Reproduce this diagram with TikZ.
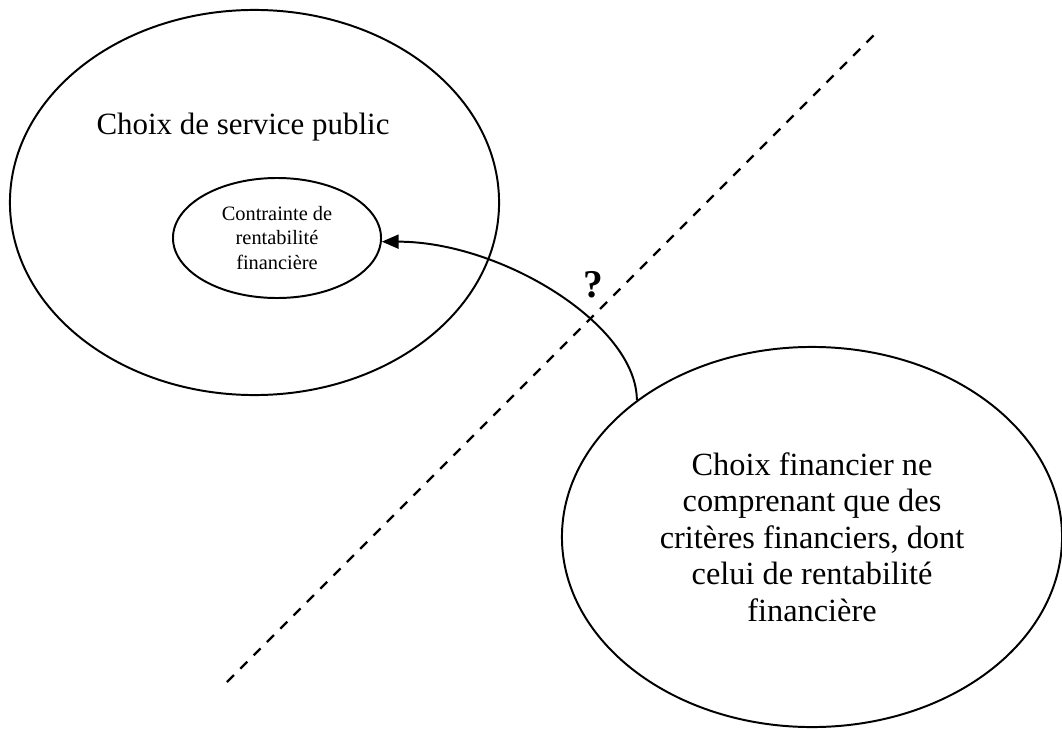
\documentclass[tikz,border=0pt]{standalone}
\usepackage{fontspec}
\setmainfont{Liberation Serif}
\usetikzlibrary{positioning, arrows.meta, shapes.geometric}

\begin{document}
\begin{tikzpicture}[
        x=0.025cm, y=-0.025cm,
        every node/.style={font=\fontsize{22}{26}\selectfont},
        bubble/.style={ellipse, draw, line width=1.4pt, inner sep=0pt},
        small/.style={font=\fontsize{14.5}{17.2}\selectfont, align=center},
        big/.style={font=\fontsize{23}{26}\selectfont, align=center},
        edge/.style={-{Triangle[length=12pt, width=10pt]}, line width=1.4pt},
        border/.style={line width=1.7pt, dash pattern=on 7pt off 6.4pt}
    ]
        \useasboundingbox (0,0) rectangle (1062,729);
        % Border between the two choices
        \coordinate (b1) at (227,682);
        \coordinate (b2) at (875,34);
        \draw[border] (b1) -- (b2);
        % Public service side
        \node[bubble, minimum width=12.225cm, minimum height=9.625cm] (pub) at (254.5,202.5) {};
        \node (pubtxt) at (243,127) {Choix de service public};
        \node[bubble, small, minimum width=5.2cm, minimum height=3cm] (cont) at (277,238)
            {Contrainte de\\rentabilité\\financière};
        % Financial side
        \node[bubble, big, minimum width=12.5cm, minimum height=9.5cm] (fin) at (812,537)
            {Choix financier ne\\comprenant que des\\critères financiers, dont\\celui de rentabilité\\financière};
        % Question
        \draw[edge] (fin.142.4) .. controls ++(0,-75) and ++(120,0) .. (cont.-2);
        \node[font=\fontsize{28}{30}\selectfont\bfseries] (q) at (593,285) {?};
\end{tikzpicture}
\end{document}
